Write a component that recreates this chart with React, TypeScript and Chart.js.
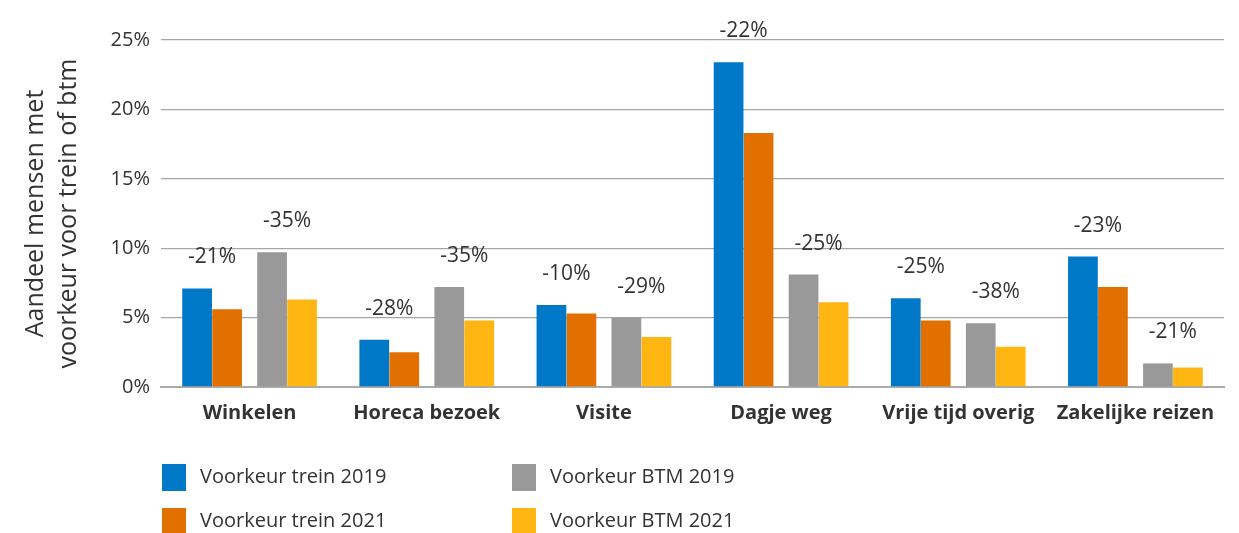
import React, { useEffect, useRef } from "react";
import { Chart, registerables } from "chart.js";

Chart.register(...registerables);

const categories = ["Winkelen", "Horeca bezoek", "Visite", "Dagje weg", "Vrije tijd overig", "Zakelijke reizen"];
const trein2019 = [7.1, 3.4, 5.9, 23.4, 6.4, 9.4];
const trein2021 = [5.6, 2.5, 5.3, 18.3, 4.8, 7.2];
const btm2019 = [9.7, 7.2, 5.0, 8.1, 4.6, 1.7];
const btm2021 = [6.3, 4.8, 3.6, 6.1, 2.9, 1.4];
const treinChange = ["-21%", "-28%", "-10%", "-22%", "-25%", "-23%"];
const btmChange = ["-35%", "-35%", "-29%", "-25%", "-38%", "-21%"];
const yTicks = [0, 5, 10, 15, 20, 25];
const seriesNames = ["Voorkeur trein 2019", "Voorkeur trein 2021", "Voorkeur BTM 2019", "Voorkeur BTM 2021"];

const COLORS = ["#0078C8", "#E17000", "#999999", "#FFB612"];
const FONT = "'Open Sans', 'Noto Sans', sans-serif";
const TEXT = "#333333";

const changeLabels = {
  id: "changeLabels",
  afterDatasetsDraw(chart: any) {
    const ctx = chart.ctx;
    ctx.save();
    ctx.font = `21px ${FONT}`;
    ctx.fillStyle = TEXT;
    ctx.textAlign = "center";
    ctx.textBaseline = "middle";
    const pairs: [number, number, string[]][] = [
      [0, 1, treinChange],
      [2, 3, btmChange],
    ];
    categories.forEach((_, i) => {
      pairs.forEach(([a, b, labels]) => {
        const ba = chart.getDatasetMeta(a).data[i];
        const bb = chart.getDatasetMeta(b).data[i];
        const x = (ba.x + bb.x) / 2;
        const y = Math.min(ba.y, bb.y) - 31;
        ctx.fillText(labels[i], x, y);
      });
    });
    ctx.restore();
  },
};

const gridLegend = {
  id: "gridLegend",
  afterDraw(chart: any) {
    const ctx = chart.ctx;
    ctx.save();
    ctx.font = `20px ${FONT}`;
    ctx.textBaseline = "middle";
    ctx.textAlign = "left";
    const order = [0, 2, 1, 3];
    const colX = [162, 512];
    const rowY = [477, 521];
    order.forEach((dsIndex, k) => {
      const col = k % 2;
      const row = Math.floor(k / 2);
      const x = colX[col];
      const y = rowY[row];
      ctx.fillStyle = COLORS[dsIndex];
      ctx.fillRect(x, y - 13, 24, 27);
      ctx.fillStyle = TEXT;
      ctx.fillText(chart.data.datasets[dsIndex].label, x + 38, y);
    });
    ctx.restore();
  },
};

export default function App() {
  const canvasRef = useRef<HTMLCanvasElement | null>(null);

  useEffect(() => {
    if (!canvasRef.current) return;
    const geom = [
      { categoryPercentage: 0.79, barPercentage: 0.85 },
      { categoryPercentage: 1.016, barPercentage: 0.66 },
      { categoryPercentage: 1.016, barPercentage: 0.66 },
      { categoryPercentage: 0.79, barPercentage: 0.85 },
    ];
    const values = [trein2019, trein2021, btm2019, btm2021];
    const chart = new Chart(canvasRef.current, {
      type: "bar",
      data: {
        labels: categories,
        datasets: values.map((v, i) => ({
          label: seriesNames[i],
          data: v,
          backgroundColor: COLORS[i],
          borderWidth: 0,
          ...geom[i],
        })),
      },
      options: {
        animation: false,
        responsive: true,
        maintainAspectRatio: false,
        layout: { padding: { top: 40, right: 15, bottom: 106, left: 0 } },
        plugins: {
          legend: { display: false },
          tooltip: { enabled: false },
        },
        scales: {
          x: {
            offset: true,
            grid: { display: false, drawTicks: false },
            border: { display: true, color: "#aaaaaa", width: 2 },
            ticks: {
              color: TEXT,
              font: { family: FONT, size: 20, weight: "bold" },
              padding: 14,
              maxRotation: 0,
              autoSkip: false,
            },
            afterFit(scale: any) {
              scale.height = 40;
            },
          },
          y: {
            min: 0,
            max: 25,
            afterBuildTicks(scale: any) {
              scale.ticks = yTicks.map((v) => ({ value: v }));
            },
            grid: { color: "#a6a6a6", lineWidth: 1.3, drawTicks: false },
            border: { display: false },
            ticks: {
              color: TEXT,
              font: { family: FONT, size: 20 },
              padding: 11,
              callback: (v: any) => `${v}%`,
            },
            title: {
              display: true,
              text: ["Aandeel mensen met", "voorkeur voor trein of btm"],
              color: TEXT,
              font: { family: FONT, size: 25, lineHeight: 1.3 },
              padding: { top: 20, bottom: 0 },
            },
            afterFit(scale: any) {
              scale.width = 161;
            },
          },
        },
      },
      plugins: [changeLabels, gridLegend],
    });
    return () => chart.destroy();
  }, []);

  return (
    <div style={{ position: "fixed", left: 0, top: 0, width: 1239, height: 533 }}>
      <canvas ref={canvasRef} />
    </div>
  );
}
